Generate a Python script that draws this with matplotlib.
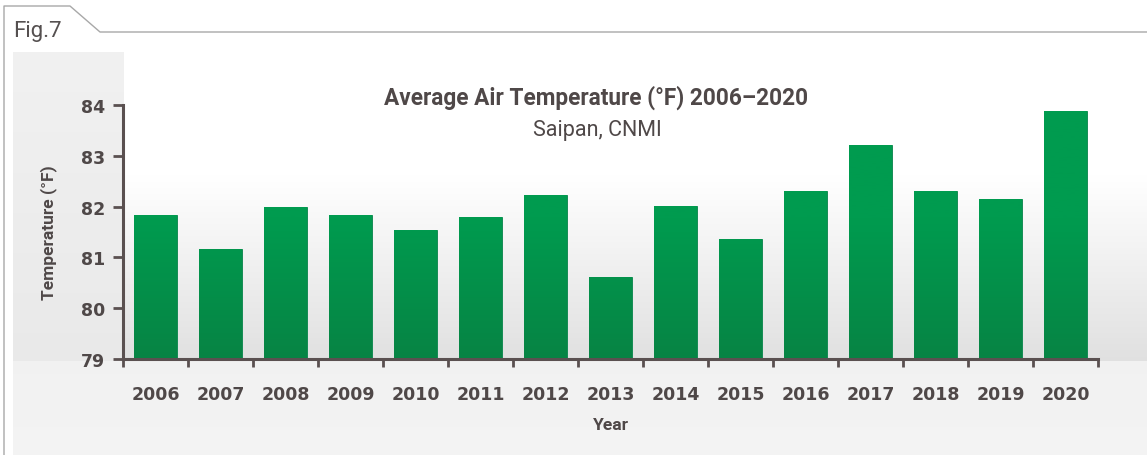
import numpy as np
import matplotlib.pyplot as plt
from matplotlib.lines import Line2D

years = ['2006', '2007', '2008', '2009', '2010', '2011', '2012', '2013',
         '2014', '2015', '2016', '2017', '2018', '2019', '2020']
temps = [81.83, 81.17, 82.0, 81.83, 81.54, 81.80, 82.23, 80.61,
         82.01, 81.36, 82.31, 83.21, 82.31, 82.15, 83.88]
yticks = [79, 80, 81, 82, 83, 84]

W, H = 1147, 456
txt = '#4f4848'

fig = plt.figure(figsize=(W / 100, H / 100), dpi=100)
fig.patch.set_facecolor('white')

# background panel, pixel coords (y down)
bg = fig.add_axes([0, 0, 1, 1])
bg.set_xlim(0, W)
bg.set_ylim(H, 0)
bg.axis('off')

panel = np.linspace(0, 1, 100).reshape(-1, 1)
bg.imshow(np.dstack([0.925 + 0.03 * panel] * 3), extent=[13, W, H, 53],
          aspect='auto', zorder=0)
# left strip
bg.imshow(np.dstack([0.945 - 0.03 * panel] * 3), extent=[13, 124, 362, 53],
          aspect='auto', zorder=1)
# plot area: white on top, grey towards the axis
g = np.clip((np.linspace(0, 1, 200) - 0.4) / 0.6, 0, 1).reshape(-1, 1)
bg.imshow(np.dstack([1.0 - 0.12 * g] * 3), extent=[124, W, 362, 53],
          aspect='auto', zorder=1)

# frame with tab
frame_c = '#a8a8a8'
bg.add_line(Line2D([4, 4, 70, 100, W], [H, 7, 7, 33, 33], color=frame_c, lw=1.0, zorder=3))
bg.text(13, 31, 'Fig.7', fontsize=16, color='#555050', family='Roboto', va='center', zorder=4)

# titles
bg.text(596, 98, 'Average Air Temperature (°F) 2006–2020', fontsize=16.3, weight='bold',
        color=txt, family='Roboto', ha='center', va='center', zorder=4)
bg.text(597, 131, 'Saipan, CNMI', fontsize=15.5, color=txt, family='Roboto',
        ha='center', va='center', zorder=4)

# main axes
ax = fig.add_axes([123 / W, (H - 360) / H, (1098 - 123) / W, (360 - 106) / H])
ax.patch.set_alpha(0)
x = np.arange(len(years))
bars = ax.bar(x, temps, width=0.66, bottom=0, color='#009a4e',
              edgecolor='#07834a', linewidth=0.6, zorder=2)
grad = np.linspace(0, 1, 100).reshape(-1, 1)
top_c = np.array([0x00, 0x9b, 0x4f]) / 255
bot_c = np.array([0x07, 0x84, 0x44]) / 255
img = top_c + (bot_c - top_c) * np.clip((grad - 0.45) / 0.55, 0, 1)[..., None]
img = img.reshape(100, 1, 3)
for b in bars:
    im = ax.imshow(img, extent=[-0.5, len(years) - 0.5, 79, 84], aspect='auto', zorder=3)
    im.set_clip_path(b)

ax.set_xlim(-0.5, len(years) - 0.5)
ax.set_ylim(79, 84)
ax.set_yticks(yticks)
ax.set_yticklabels([str(t) for t in yticks])
ax.set_xticks(np.arange(len(years) + 1) - 0.5)
ax.set_xticklabels([])
ax.set_xticks(x, minor=True)
ax.set_xticklabels(years, minor=True)

for s in ['top', 'right']:
    ax.spines[s].set_visible(False)
for s in ['left', 'bottom']:
    ax.spines[s].set_color('#5a5050')
    ax.spines[s].set_linewidth(2.2)
    ax.spines[s].set_zorder(5)

ax.tick_params(axis='y', which='major', length=7, width=2, color='#5a5050',
               labelsize=12.5, labelcolor=txt, pad=6)
ax.tick_params(axis='x', which='major', length=6, width=2, color='#5a5050')
ax.tick_params(axis='x', which='minor', length=0, labelsize=12.5, labelcolor=txt, pad=19)
for lbl in ax.get_yticklabels() + ax.get_xticklabels(minor=True):
    lbl.set_fontweight('bold')
    lbl.set_family('DejaVu Sans')

ax.set_xlabel('Year', fontsize=12.5, weight='bold', color=txt, family='Roboto', labelpad=10)
ax.set_ylabel('Temperature (°F)', fontsize=12.5, weight='bold', color=txt, family='Roboto', labelpad=17)

fig.savefig('out.png', dpi=100)
